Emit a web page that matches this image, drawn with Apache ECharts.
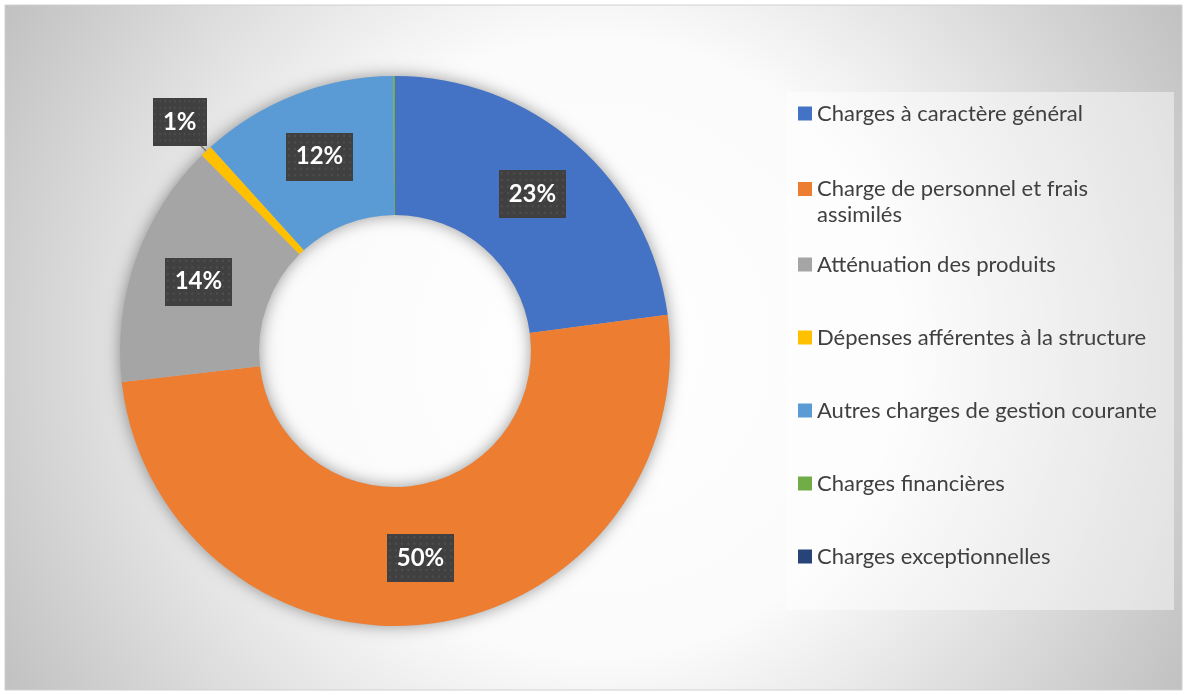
<!DOCTYPE html>
<html>
<head>
<meta charset="utf-8">
<script src="https://cdn.jsdelivr.net/npm/echarts@6/dist/echarts.min.js"></script>
<style>
  html, body { margin: 0; padding: 0; background: #fff; }
  #chart { width: 1186px; height: 695px; }
</style>
</head>
<body>
<div id="chart"></div>
<script>
const categories = [
  "Charges à caractère général",
  "Charge de personnel et frais assimilés",
  "Atténuation des produits",
  "Dépenses afférentes à la structure",
  "Autres charges de gestion courante",
  "Charges financières",
  "Charges exceptionnelles"
];
const values = [22.9, 50.3, 14.4, 0.7, 11.6, 0.1, 0];
const colors = ["#4472C4", "#ED7D31", "#A5A5A5", "#FFC000", "#5B9BD5", "#70AD47", "#264478"];

// dotted dark texture for the data labels
function makeDots() {
  let c = document.createElement("canvas");
  c.width = 66;
  c.height = 44;
  let ctx = c.getContext("2d");
  ctx.fillStyle = "#404040";
  ctx.fillRect(0, 0, c.width, c.height);
  ctx.fillStyle = "#4e4e4e";
  for (let y = 2; y < c.height; y += 6) {
    for (let x = 2; x < c.width; x += 6) {
      ctx.fillRect(x, y, 2, 2);
    }
  }
  return c;
}
const dots = makeDots();

const labelBase = {
  color: "#fff",
  fontFamily: "Lato",
  fontWeight: "bold",
  fontSize: 24,
  lineHeight: 28,
  padding: [10, 10],
  backgroundColor: { image: dots },
  shadowColor: "rgba(0,0,0,0.45)",
  shadowBlur: 6,
  shadowOffsetX: 2,
  shadowOffsetY: 3,
  formatter: p => Math.round(p.percent) + "%"
};

let pieData = categories.map((name, i) => {
  let item = { name: name, value: values[i], itemStyle: { color: colors[i] } };
  if (values[i] < 0.5) {
    item.label = { show: false };
    item.labelLine = { show: false };
  } else if (values[i] < 2) {
    item.label = { position: "outside" };
    item.labelLine = { show: true, length: 14, length2: 6, lineStyle: { color: "#7f7f7f", width: 1.5 } };
  }
  return item;
});

// the long name wraps on two lines; a blank first line keeps the icon on line one
let legendData = categories.map(name => {
  if (name.length > 34) {
    return { name: name, textStyle: { lineHeight: 26, padding: 0 } };
  }
  return { name: name };
});

let myChart = echarts.init(document.getElementById("chart"));
let option = {
  animation: false,
  graphic: {
    elements: [
      {
        type: "rect",
        z: 0,
        silent: true,
        shape: { x: 5, y: 5, width: 1177, height: 685 },
        style: {
          fill: new echarts.graphic.RadialGradient(0.5, 0.5, 1, [
            { offset: 0, color: "#ffffff" },
            { offset: 0.45, color: "#fbfbfb" },
            { offset: 1, color: "#c0c0c0" }
          ]),
          stroke: "#d0d0d0",
          lineWidth: 1
        }
      },
      {
        type: "rect",
        z: 1,
        silent: true,
        shape: { x: 786, y: 92, width: 388, height: 518 },
        style: { fill: "rgba(255,255,255,0.45)" }
      }
    ]
  },
  legend: {
    orient: "vertical",
    left: 798,
    top: 77,
    padding: 0,
    itemGap: 0,
    itemWidth: 14,
    itemHeight: 14,
    icon: "rect",
    selectedMode: false,
    data: legendData,
    formatter: name => name.length > 34 ? " \nCharge de personnel et frais\nassimilés" : name,
    textStyle: {
      fontFamily: "Lato",
      fontSize: 22,
      color: "#404040",
      lineHeight: 27,
      padding: [23, 0, 23, 0]
    }
  },
  series: [
    {
      // soft shadow under the ring
      type: "pie",
      silent: true,
      z: 1,
      center: [395, 351],
      radius: [136, 275],
      label: { show: false },
      labelLine: { show: false },
      itemStyle: {
        color: "#bbbbbb",
        shadowBlur: 16,
        shadowColor: "rgba(0,0,0,0.4)"
      },
      data: [{ name: "_shadow", value: 1 }]
    },
    {
      type: "pie",
      z: 2,
      center: [395, 351],
      radius: [136, 275],
      startAngle: 90,
      clockwise: true,
      avoidLabelOverlap: false,
      emphasis: { disabled: true },
      itemStyle: { borderWidth: 0 },
      label: Object.assign({ show: true, position: "inside" }, labelBase),
      labelLine: { show: false },
      labelLayout: p => (p.dataIndex === 3 ? { dx: 21, dy: -19 } : {}),
      data: pieData
    }
  ]
};
myChart.setOption(option);
</script>
</body>
</html>
